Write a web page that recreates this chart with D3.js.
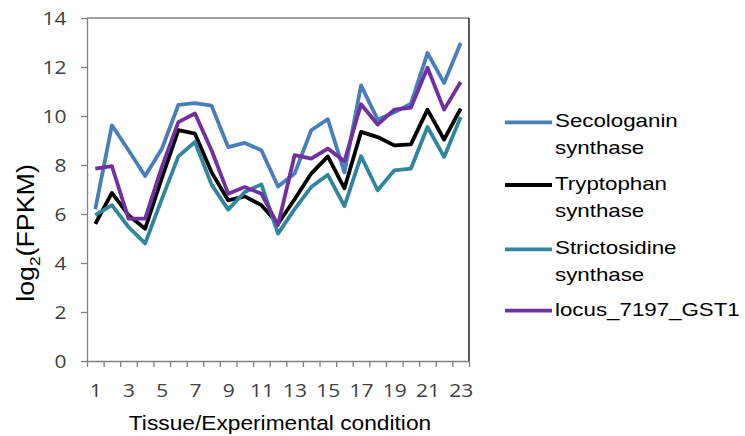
<!DOCTYPE html>
<html>
<head>
<meta charset="utf-8">
<script src="https://cdn.jsdelivr.net/npm/d3@7"></script>
<style>
  body { margin: 0; background: #fff; }
  svg { display: block; }
</style>
</head>
<body>
<svg width="745" height="436"></svg>
<script>
// data
const conditions = d3.range(1, 24);
const secologanin = [6.2, 9.62, 8.6, 7.55, 8.65, 10.45, 10.53, 10.42, 8.73, 8.9, 8.6, 7.12, 7.65, 9.42, 9.87, 7.7, 11.25, 9.85, 10.15, 10.5, 12.57, 11.35, 12.98];
const tryptophan  = [5.6, 6.86, 5.95, 5.4, 7.45, 9.42, 9.28, 7.7, 6.56, 6.72, 6.36, 5.6, 6.6, 7.65, 8.35, 7.05, 9.35, 9.14, 8.8, 8.84, 10.26, 9.04, 10.3];
const strictosidine = [5.95, 6.36, 5.47, 4.8, 6.6, 8.35, 8.94, 7.2, 6.18, 6.9, 7.21, 5.2, 6.2, 7.1, 7.6, 6.32, 8.36, 6.97, 7.78, 7.85, 9.55, 8.33, 9.96];
const gst1 = [7.85, 7.95, 5.81, 5.81, 7.9, 9.75, 10.1, 8.6, 6.83, 7.1, 6.83, 5.55, 8.4, 8.26, 8.67, 8.15, 10.48, 9.65, 10.26, 10.34, 11.97, 10.26, 11.39];
const yTicks = d3.range(0, 15, 2);
const xLabels = conditions.filter(d => d % 2 === 1);

const series = [
  {name: ["Secologanin", "synthase"], values: secologanin, color: "#4a7ebb"},
  {name: ["Tryptophan", "synthase"], values: tryptophan, color: "#000000"},
  {name: ["Strictosidine", "synthase"], values: strictosidine, color: "#31859c"},
  {name: ["locus_7197_GST1"], values: gst1, color: "#7030a0"}
];

// set the dimensions and margins of the graph
const margin = {top: 18, left: 87},
  width = 382,
  height = 343;

// the source picture is a bit wider than tall, so text gets stretched a little
const tickFont = "'Open Sans', sans-serif",
  textFont = "'Liberation Sans', Arial, sans-serif";

const root = d3.select("svg");
const svg = root.append("g")
  .attr("transform", `translate(${margin.left}, ${margin.top})`);

// category positions, ticks sit between categories
const x = d3.scaleLinear()
  .domain([0.5, 23.5])
  .range([0, width]);

const y = d3.scaleLinear()
  .domain([0, 14])
  .range([height, 0]);

// frame top / right
svg.append("line")
  .attr("x1", 0).attr("x2", width).attr("y1", 0).attr("y2", 0)
  .attr("stroke", "#808080").attr("stroke-width", 1.3);
svg.append("line")
  .attr("x1", width).attr("x2", width).attr("y1", 0).attr("y2", height)
  .attr("stroke", "#000").attr("stroke-width", 1.3);

// Y axis
const yAxis = svg.append("g")
  .call(d3.axisLeft(y).tickValues(yTicks).tickSize(6).tickSizeOuter(0));
yAxis.select(".domain").attr("stroke", "#808080").attr("stroke-width", 1.3);
yAxis.selectAll(".tick line").attr("stroke", "#808080").attr("stroke-width", 1.3);
yAxis.selectAll(".tick text")
  .attr("x", -17)
  .attr("dy", "0.36em")
  .attr("transform", "scale(1.2,1)")
  .attr("font-family", tickFont)
  .attr("font-size", "17.5px")
  .attr("fill", "#404040");

// X axis ticks
const xAxis = svg.append("g")
  .attr("transform", `translate(0, ${height})`)
  .call(d3.axisBottom(x).tickValues(d3.range(0.5, 24, 1)).tickFormat("").tickSize(6).tickSizeOuter(0));
xAxis.select(".domain").attr("stroke", "#808080").attr("stroke-width", 1.3);
xAxis.selectAll(".tick line").attr("stroke", "#808080").attr("stroke-width", 1.3);

// X labels (odd conditions)
const xLab = svg.append("g")
  .attr("transform", `translate(0, ${height})`)
  .call(d3.axisBottom(x).tickValues(xLabels).tickFormat(d3.format("d")).tickSize(0));
xLab.select(".domain").remove();
xLab.selectAll(".tick text")
  .attr("y", 36.5)
  .attr("dy", 0)
  .attr("transform", "scale(1.2,1)")
  .attr("font-family", tickFont)
  .attr("font-size", "17.5px")
  .attr("fill", "#404040");

// axis titles
root.append("text")
  .attr("transform", "translate(280, 430) scale(1.16,1)")
  .attr("text-anchor", "middle")
  .attr("font-family", textFont)
  .attr("font-size", "19.6px")
  .attr("fill", "#000")
  .text("Tissue/Experimental condition");

const yTitle = root.append("text")
  .attr("transform", "translate(34, 233) rotate(-90) scale(1.22,1.05)")
  .attr("text-anchor", "middle")
  .attr("font-family", textFont)
  .attr("font-size", "22px")
  .attr("fill", "#000");
yTitle.append("tspan").text("log");
yTitle.append("tspan").attr("font-size", "14px").attr("dy", 6).text("2");
yTitle.append("tspan").attr("dy", -6).text("(FPKM)");

// Lines
const line = d3.line()
  .x((d, i) => x(conditions[i]))
  .y(d => y(d));

svg.selectAll("path.series")
  .data(series)
  .join("path")
  .attr("class", "series")
  .attr("d", d => line(d.values))
  .attr("fill", "none")
  .attr("stroke", d => d.color)
  .attr("stroke-width", 3.8)
  .attr("stroke-linejoin", "round");

// Legend
const legend = root.append("g")
  .attr("transform", "translate(505, 122.3)");

const entry = legend.selectAll("g")
  .data(series)
  .join("g")
  .attr("transform", (d, i) => `translate(0, ${[0, 62.7, 127, 188.4][i]})`);

entry.append("line")
  .attr("x1", 0).attr("x2", 47)
  .attr("stroke", d => d.color)
  .attr("stroke-width", 3.8);

entry.append("text")
  .attr("transform", "translate(50, 0) scale(1.2,1)")
  .attr("font-family", textFont)
  .attr("font-size", "18.6px")
  .attr("fill", "#000")
  .selectAll("tspan")
  .data(d => d.name)
  .join("tspan")
  .attr("x", 0)
  .attr("y", (d, i) => 5 + i * 26.7)
  .text(d => d);
</script>
</body>
</html>
